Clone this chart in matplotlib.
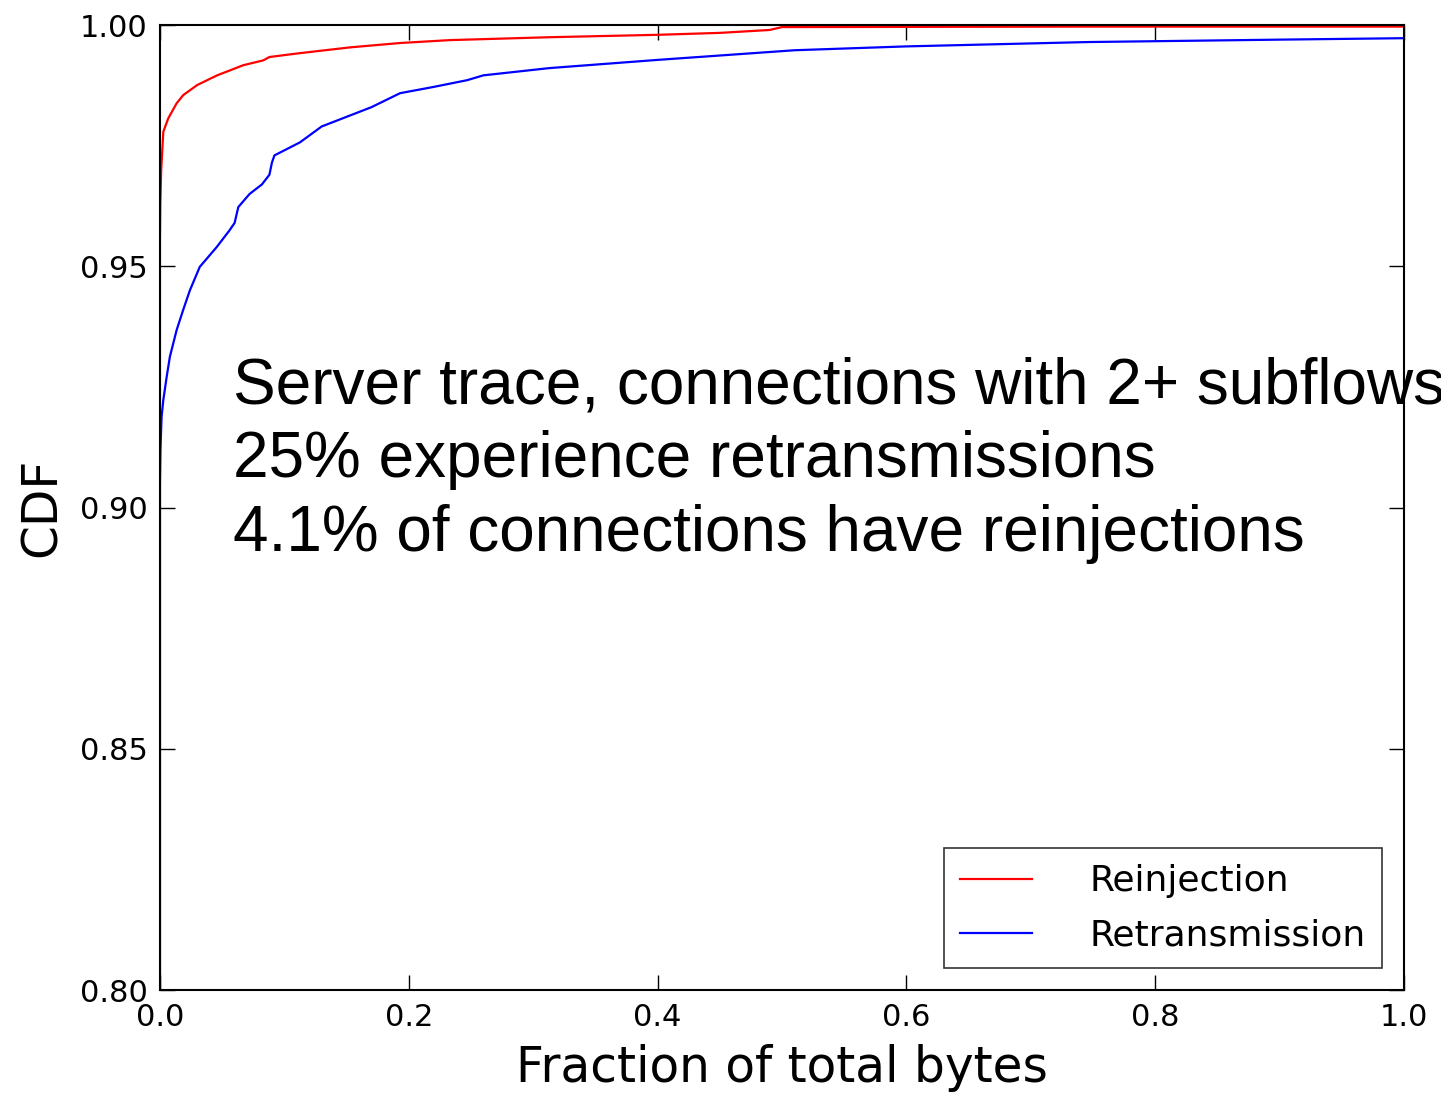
import matplotlib
matplotlib.use("Agg")
import matplotlib.pyplot as plt
from matplotlib.ticker import FormatStrFormatter

# CDF curves (fraction of bytes, CDF)
reinj_x = [0.0, 0.0, 0.0003, 0.001, 0.0027, 0.0067, 0.0134, 0.0187, 0.030, 0.046,
           0.067, 0.083, 0.088, 0.1125, 0.153, 0.193, 0.233, 0.313, 0.40, 0.45,
           0.49, 0.50, 0.75, 1.0]
reinj_y = [0.70, 0.955, 0.963, 0.970, 0.9779, 0.9807, 0.9838, 0.9855, 0.9876, 0.9896,
           0.9917, 0.9927, 0.9934, 0.9942, 0.9954, 0.9963, 0.9969, 0.9975, 0.9980, 0.9984,
           0.9990, 0.9996, 0.9997, 0.9997]

retr_x = [0.0, 0.0, 0.0004, 0.0013, 0.0027, 0.0054, 0.008, 0.0134, 0.0187, 0.024,
          0.032, 0.0456, 0.056, 0.060, 0.063, 0.072, 0.082, 0.088, 0.090, 0.092,
          0.1125, 0.13, 0.153, 0.17, 0.193, 0.22, 0.247, 0.26, 0.313, 0.40,
          0.51, 0.60, 0.746, 0.90, 1.0]
retr_y = [0.70, 0.905, 0.912, 0.9188, 0.9223, 0.9271, 0.9313, 0.9368, 0.941, 0.945,
          0.9499, 0.954, 0.9575, 0.959, 0.9623, 0.965, 0.967, 0.969, 0.9715, 0.973,
          0.9757, 0.979, 0.9813, 0.983, 0.9859, 0.9872, 0.9886, 0.9896, 0.9911, 0.9928,
          0.9948, 0.9956, 0.9965, 0.9970, 0.9973]

x_ticks = [0.0, 0.2, 0.4, 0.6, 0.8, 1.0]
y_ticks = [0.80, 0.85, 0.90, 0.95, 1.00]

note = ("Server trace, connections with 2+ subflows\n"
        "25% experience retransmissions\n"
        "4.1% of connections have reinjections")


def main():
    fig = plt.figure(figsize=(14.41, 10.94), dpi=100, facecolor='white')
    ax = fig.add_axes([0.111, 0.095, 0.8633, 0.882])

    ax.plot(reinj_x, reinj_y, color='r', linewidth=1.6, label='Reinjection')
    ax.plot(retr_x, retr_y, color='b', linewidth=1.6, label='Retransmission')

    ax.set_xlim(0.0, 1.0)
    ax.set_ylim(0.80, 1.00)
    ax.set_xticks(x_ticks)
    ax.set_yticks(y_ticks)
    ax.xaxis.set_major_formatter(FormatStrFormatter('%.1f'))
    ax.yaxis.set_major_formatter(FormatStrFormatter('%.2f'))
    ax.tick_params(direction='in', length=11, width=1, top=True, right=True,
                   labelsize=22, pad=9)
    for s in ax.spines.values():
        s.set_linewidth(1.5)

    ax.set_xlabel("Fraction of total bytes", fontsize=35, labelpad=9)
    ax.set_ylabel("CDF", fontsize=35, labelpad=10)

    leg = ax.legend(loc='lower right', fontsize=26, fancybox=False, frameon=True,
                    borderpad=0.45, handlelength=2.0, handletextpad=1.6,
                    labelspacing=0.55, borderaxespad=0.6)
    leg.get_frame().set_edgecolor('black')
    leg.get_frame().set_linewidth(1.2)

    # big annotation, runs past the right edge like the original
    ax.text(0.0587, 0.657, note, transform=ax.transAxes, fontsize=46,
            family='Liberation Sans', va='top', ha='left', linespacing=1.3,
            clip_on=False)

    fig.savefig("out.png", dpi=100, facecolor='white')


if __name__ == "__main__":
    main()
